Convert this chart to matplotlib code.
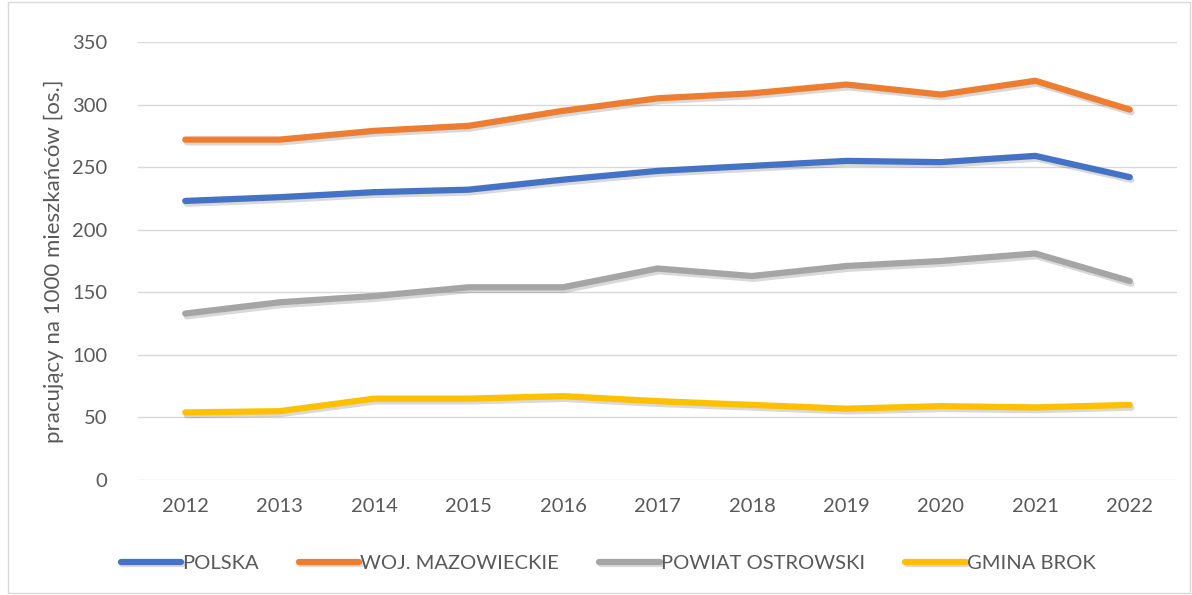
import matplotlib
matplotlib.use("Agg")
import matplotlib.pyplot as plt
import matplotlib.patheffects as pe
from matplotlib.patches import Rectangle

years = ["2012", "2013", "2014", "2015", "2016", "2017", "2018", "2019", "2020", "2021", "2022"]
polska = [223, 226, 230, 232, 240, 247, 251, 255, 254, 259, 242]
mazowieckie = [272, 272, 279, 283, 295, 305, 309, 316, 308, 319, 296]
ostrowski = [133, 142, 147, 154, 154, 169, 163, 171, 175, 181, 159]
brok = [54, 55, 65, 65, 67, 63, 60, 57, 59, 58, 60]

series = [
    ("POLSKA", polska, "#4472C4"),
    ("WOJ. MAZOWIECKIE", mazowieckie, "#ED7D31"),
    ("POWIAT OSTROWSKI", ostrowski, "#A5A5A5"),
    ("GMINA BROK", brok, "#FFC000"),
]

plt.rcParams['font.family'] = ['Lato', 'DejaVu Sans']
fig = plt.figure(figsize=(11.92, 5.95), dpi=100)
ax = fig.add_axes([138/1192, 1-480/595, (1177-138)/1192, (480-42)/595])

x = list(range(len(years)))
shadow = [pe.SimpleLineShadow(offset=(1.2, -2), shadow_color="#000000", alpha=0.15), pe.Normal()]
for name, vals, col in series:
    ax.plot(x, vals, color=col, lw=4.5, solid_capstyle='round', solid_joinstyle='round',
            label=name, path_effects=shadow)

ax.set_xlim(-0.5, len(years) - 0.5)
ax.set_ylim(0, 350)
ax.set_yticks(range(0, 351, 50))
ax.set_xticks(x)
ax.set_xticklabels(years)
ax.grid(axis='y', color='#D9D9D9', lw=1)
ax.set_axisbelow(True)
for s in ax.spines.values():
    s.set_visible(False)
ax.tick_params(axis='both', length=0, labelsize=14.5, colors='#595959')
ax.tick_params(axis='x', pad=13)
ax.tick_params(axis='y', pad=22)
ax.set_ylabel("pracujący na 1000 mieszkańców [os.]", fontsize=16, color='#595959', labelpad=6)

leg = fig.legend(loc='center', bbox_to_anchor=(0.51, 1-563/595), ncol=4, frameon=False,
                 fontsize=14.5, handlelength=3.0, handletextpad=0.05, columnspacing=2.0,
                 labelcolor='#595959')
for h in leg.get_lines():
    h.set_linewidth(4.5)

fig.patches.append(Rectangle((8/1192, 2/595), 1-10/1192, 1-4/595, transform=fig.transFigure,
                             fill=False, edgecolor='#D9D9D9', lw=1))

fig.savefig("out.png", dpi=100)
